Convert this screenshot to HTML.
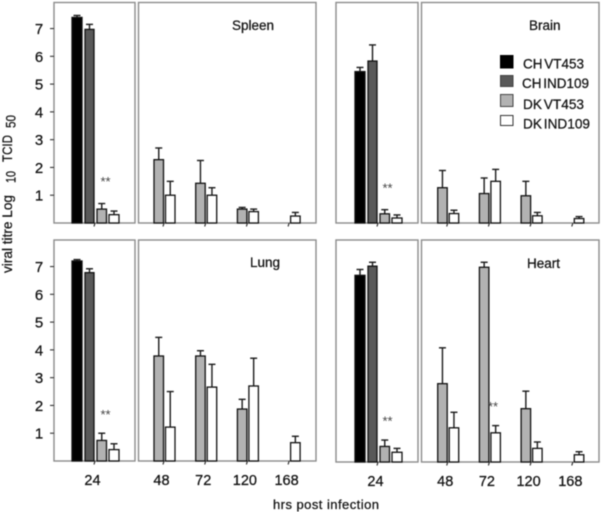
<!DOCTYPE html>
<html>
<head>
<meta charset="utf-8">
<style>
html,body{margin:0;padding:0;background:#fff}
svg{display:block;filter:blur(0.4px)}
text{font-family:"Liberation Sans",Arial,sans-serif;fill:#111;stroke:#111;stroke-width:0.25}
</style>
</head>
<body>
<svg id="chart" width="601" height="512" viewBox="0 0 601 512" xmlns="http://www.w3.org/2000/svg">
  <g transform="translate(12,273) rotate(-90)">
    <text x="0" y="0" font-size="14" textLength="78" lengthAdjust="spacingAndGlyphs">viral titre Log</text>
    <text x="90" y="3.5" font-size="14" textLength="12" lengthAdjust="spacingAndGlyphs">10</text>
    <text x="111" y="0" font-size="14" textLength="27" lengthAdjust="spacingAndGlyphs">TCID</text>
    <text x="145" y="3.5" font-size="14" textLength="13" lengthAdjust="spacingAndGlyphs">50</text>
  </g>
  <text x="273" y="509" font-size="13" textLength="106">hrs post infection</text>
  <g>
    <rect x="500.5" y="55.5" width="12.5" height="12.5" fill="#000" stroke="#000"/>
    <text x="523" y="68.5" font-size="14" word-spacing="-2" textLength="61" lengthAdjust="spacingAndGlyphs">CH VT453</text>
    <rect x="500.5" y="75.5" width="12.5" height="11" fill="#595959" stroke="#444"/>
    <text x="522" y="88" font-size="14" word-spacing="-2" textLength="67" lengthAdjust="spacingAndGlyphs">CH IND109</text>
    <rect x="500.5" y="94.5" width="12.5" height="12" fill="#b2b2b2" stroke="#444"/>
    <text x="523" y="109" font-size="14" word-spacing="-2" textLength="61" lengthAdjust="spacingAndGlyphs">DK VT453</text>
    <rect x="500.5" y="115.5" width="12.5" height="10" fill="#fff" stroke="#333"/>
    <text x="523" y="128.5" font-size="14" word-spacing="-2" textLength="67" lengthAdjust="spacingAndGlyphs">DK IND109</text>
  </g>
</svg>
<script>
const earlyCategories = ['24'];
const lateCategories = ['48', '72', '120', '168'];
const yTickLabels = [1, 2, 3, 4, 5, 6, 7];
const earlySeriesFills = ['#000000', '#595959', '#b2b2b2', '#ffffff'];

const spleenEarlyValues = [7.4, 6.97, 0.5, 0.3];
const spleenEarlyErrorTops = [7.47, 7.15, 0.7, 0.43];
const spleenLateVT = [2.28, 1.43, 0.5, null];
const spleenLateVTErrorTops = [2.7, 2.25, 0.56, null];
const spleenLateIND = [1.0, 1.0, 0.41, 0.25];
const spleenLateINDErrorTops = [1.5, 1.27, 0.5, 0.38];

const brainEarlyValues = [5.45, 5.83, 0.33, 0.18];
const brainEarlyErrorTops = [5.6, 6.41, 0.48, 0.29];
const brainLateVT = [1.27, 1.06, 0.98, null];
const brainLateVTErrorTops = [1.89, 1.62, 1.5, null];
const brainLateIND = [0.34, 1.5, 0.26, 0.16];
const brainLateINDErrorTops = [0.46, 1.93, 0.38, 0.23];

const lungEarlyValues = [7.2, 6.78, 0.74, 0.41];
const lungEarlyErrorTops = [7.25, 6.92, 1.0, 0.62];
const lungLateVT = [3.78, 3.78, 1.87, null];
const lungLateVTErrorTops = [4.45, 3.97, 2.22, null];
const lungLateIND = [1.22, 2.66, 2.7, 0.66];
const lungLateINDErrorTops = [2.5, 3.48, 3.7, 0.89];

const heartEarlyValues = [6.72, 7.05, 0.56, 0.35];
const heartEarlyErrorTops = [6.93, 7.19, 0.79, 0.49];
const heartLateVT = [2.82, 7.01, 1.92, null];
const heartLateVTErrorTops = [4.11, 7.19, 2.55, null];
const heartLateIND = [1.23, 1.05, 0.49, 0.26];
const heartLateINDErrorTops = [1.79, 1.31, 0.72, 0.37];

const svgNS = 'http://www.w3.org/2000/svg';
const chart = document.getElementById('chart');

function make(tag, attrs, parent) {
  const el = document.createElementNS(svgNS, tag);
  for (const k in attrs) el.setAttribute(k, attrs[k]);
  parent.appendChild(el);
  return el;
}

function drawBar(parent, xLeft, width, value, errTop, fill, yScale, baseline, key) {
  const top = yScale(value);
  const errLine = make('line', {x1: xLeft + width / 2, x2: xLeft + width / 2, y1: top, y2: yScale(errTop), stroke: '#1a1a1a', 'stroke-width': 1.4}, parent);
  
  
  const cap = make('line', {x1: xLeft + width / 2 - 3.5, x2: xLeft + width / 2 + 3.5, y1: yScale(errTop), y2: yScale(errTop), stroke: '#1a1a1a', 'stroke-width': 1.4}, parent);
  
  
  const bar = make('rect', {x: xLeft, y: top, width: width, height: baseline - top, fill: fill, stroke: '#111', 'stroke-width': 1.3}, parent);
  
  
}

function drawFrame(parent, x0, x1, top, baseline, key) {
  const frame = make('rect', {x: x0, y: top, width: x1 - x0, height: baseline - top, fill: 'none', stroke: '#8c8c8c', 'stroke-width': 1.4}, parent);
  
  
}

function drawXTick(parent, x, baseline, label, key) {
  const t = make('line', {x1: x, x2: x - 1, y1: baseline, y2: baseline + 3.5, stroke: '#222', 'stroke-width': 1.1}, parent);
  
  
  if (label) {
    const txt = make('text', {x: x - 2.5, y: baseline + 24, 'font-size': 14.5, 'text-anchor': 'middle'}, parent);
    txt.textContent = label;
    
    
  }
}

function drawStars(parent, x, y, key) {
  const s = make('text', {x: x, y: y + 6, 'font-size': 13, 'text-anchor': 'middle', style: 'fill:#444;stroke:none'}, parent);
  s.textContent = '**';
  
  
}

function drawOrgan(cfg) {
  const g = make('g', {}, chart);
  
  
  const yScale = v => cfg.baseline - v * 27.78;
  const lateX = i => cfg.lateOrigin + i * 41.7;
  const earlyOffsets = [-23, -10, 2, 14];
  const earlyWidths = [10, 9, 9.5, 10];

  drawFrame(g, cfg.earlyX0, cfg.earlyX1, cfg.top, cfg.baseline, cfg.name + '-early');
  drawFrame(g, cfg.lateX0, cfg.lateX1, cfg.top, cfg.baseline, cfg.name + '-late');

  if (cfg.yAxis) {
    yTickLabels.forEach(v => {
      const tick = make('line', {x1: cfg.earlyX0 - 4, x2: cfg.earlyX0, y1: yScale(v), y2: yScale(v), stroke: '#333', 'stroke-width': 1.1}, g);
      
      
      const label = make('text', {x: 39, y: yScale(v) + 5.5, 'font-size': 15, 'text-anchor': 'middle'}, g);
      label.textContent = v;
      
      
    });
  }

  cfg.early.forEach((v, i) => {
    drawBar(g, cfg.earlyTick + earlyOffsets[i], earlyWidths[i], v, cfg.earlyErr[i], earlySeriesFills[i], yScale, cfg.baseline, cfg.name + '-24-' + i);
  });
  drawXTick(g, cfg.earlyTick, cfg.baseline, cfg.labels ? earlyCategories[0] : '', cfg.name + '-24');

  lateCategories.forEach((c, i) => {
    const x = lateX(i);
    if (cfg.vt[i] !== null) {
      drawBar(g, x - 10, 9.5, cfg.vt[i], cfg.vtErr[i], earlySeriesFills[2], yScale, cfg.baseline, cfg.name + '-' + c + '-vt453');
    }
    if (cfg.ind[i] !== null) {
      drawBar(g, x + 1.5, 9.5, cfg.ind[i], cfg.indErr[i], earlySeriesFills[3], yScale, cfg.baseline, cfg.name + '-' + c + '-ind109');
    }
    drawXTick(g, x, cfg.baseline, cfg.labels ? c : '', cfg.name + '-' + c);
  });

  const titleEl = make('text', {x: cfg.titleX, y: cfg.titleY, 'font-size': 13.5}, g);
  titleEl.textContent = cfg.title;
  
  

  cfg.stars.forEach((s, i) => drawStars(g, s[0], yScale(s[1]), cfg.name + '-' + i));
}

drawOrgan({name: 'spleen', title: 'Spleen', titleX: 232, titleY: 30, top: 2.5, baseline: 223, earlyX0: 54, earlyX1: 135, lateX0: 138.5, lateX1: 316, earlyTick: 95, lateOrigin: 164, yAxis: true, labels: false,
  early: spleenEarlyValues, earlyErr: spleenEarlyErrorTops, vt: spleenLateVT, vtErr: spleenLateVTErrorTops, ind: spleenLateIND, indErr: spleenLateINDErrorTops, stars: [[105.5, 1.54]]});
drawOrgan({name: 'brain', title: 'Brain', titleX: 529, titleY: 30, top: 2.5, baseline: 223, earlyX0: 336, earlyX1: 418, lateX0: 421.5, lateX1: 599, earlyTick: 378, lateOrigin: 447.7, yAxis: false, labels: false,
  early: brainEarlyValues, earlyErr: brainEarlyErrorTops, vt: brainLateVT, vtErr: brainLateVTErrorTops, ind: brainLateIND, indErr: brainLateINDErrorTops, stars: [[387.5, 1.32]]});
drawOrgan({name: 'lung', title: 'Lung', titleX: 250, titleY: 267, top: 240, baseline: 461, earlyX0: 54, earlyX1: 135, lateX0: 138.5, lateX1: 316, earlyTick: 95, lateOrigin: 164, yAxis: true, labels: true,
  early: lungEarlyValues, earlyErr: lungEarlyErrorTops, vt: lungLateVT, vtErr: lungLateVTErrorTops, ind: lungLateIND, indErr: lungLateINDErrorTops, stars: [[105.5, 1.73]]});
drawOrgan({name: 'heart', title: 'Heart', titleX: 527, titleY: 268, top: 240, baseline: 462, earlyX0: 336, earlyX1: 418, lateX0: 421.5, lateX1: 599, earlyTick: 378, lateOrigin: 447.7, yAxis: false, labels: true,
  early: heartEarlyValues, earlyErr: heartEarlyErrorTops, vt: heartLateVT, vtErr: heartLateVTErrorTops, ind: heartLateIND, indErr: heartLateINDErrorTops, stars: [[387.5, 1.53], [493, 2.05]]});
</script>
</body>
</html>
